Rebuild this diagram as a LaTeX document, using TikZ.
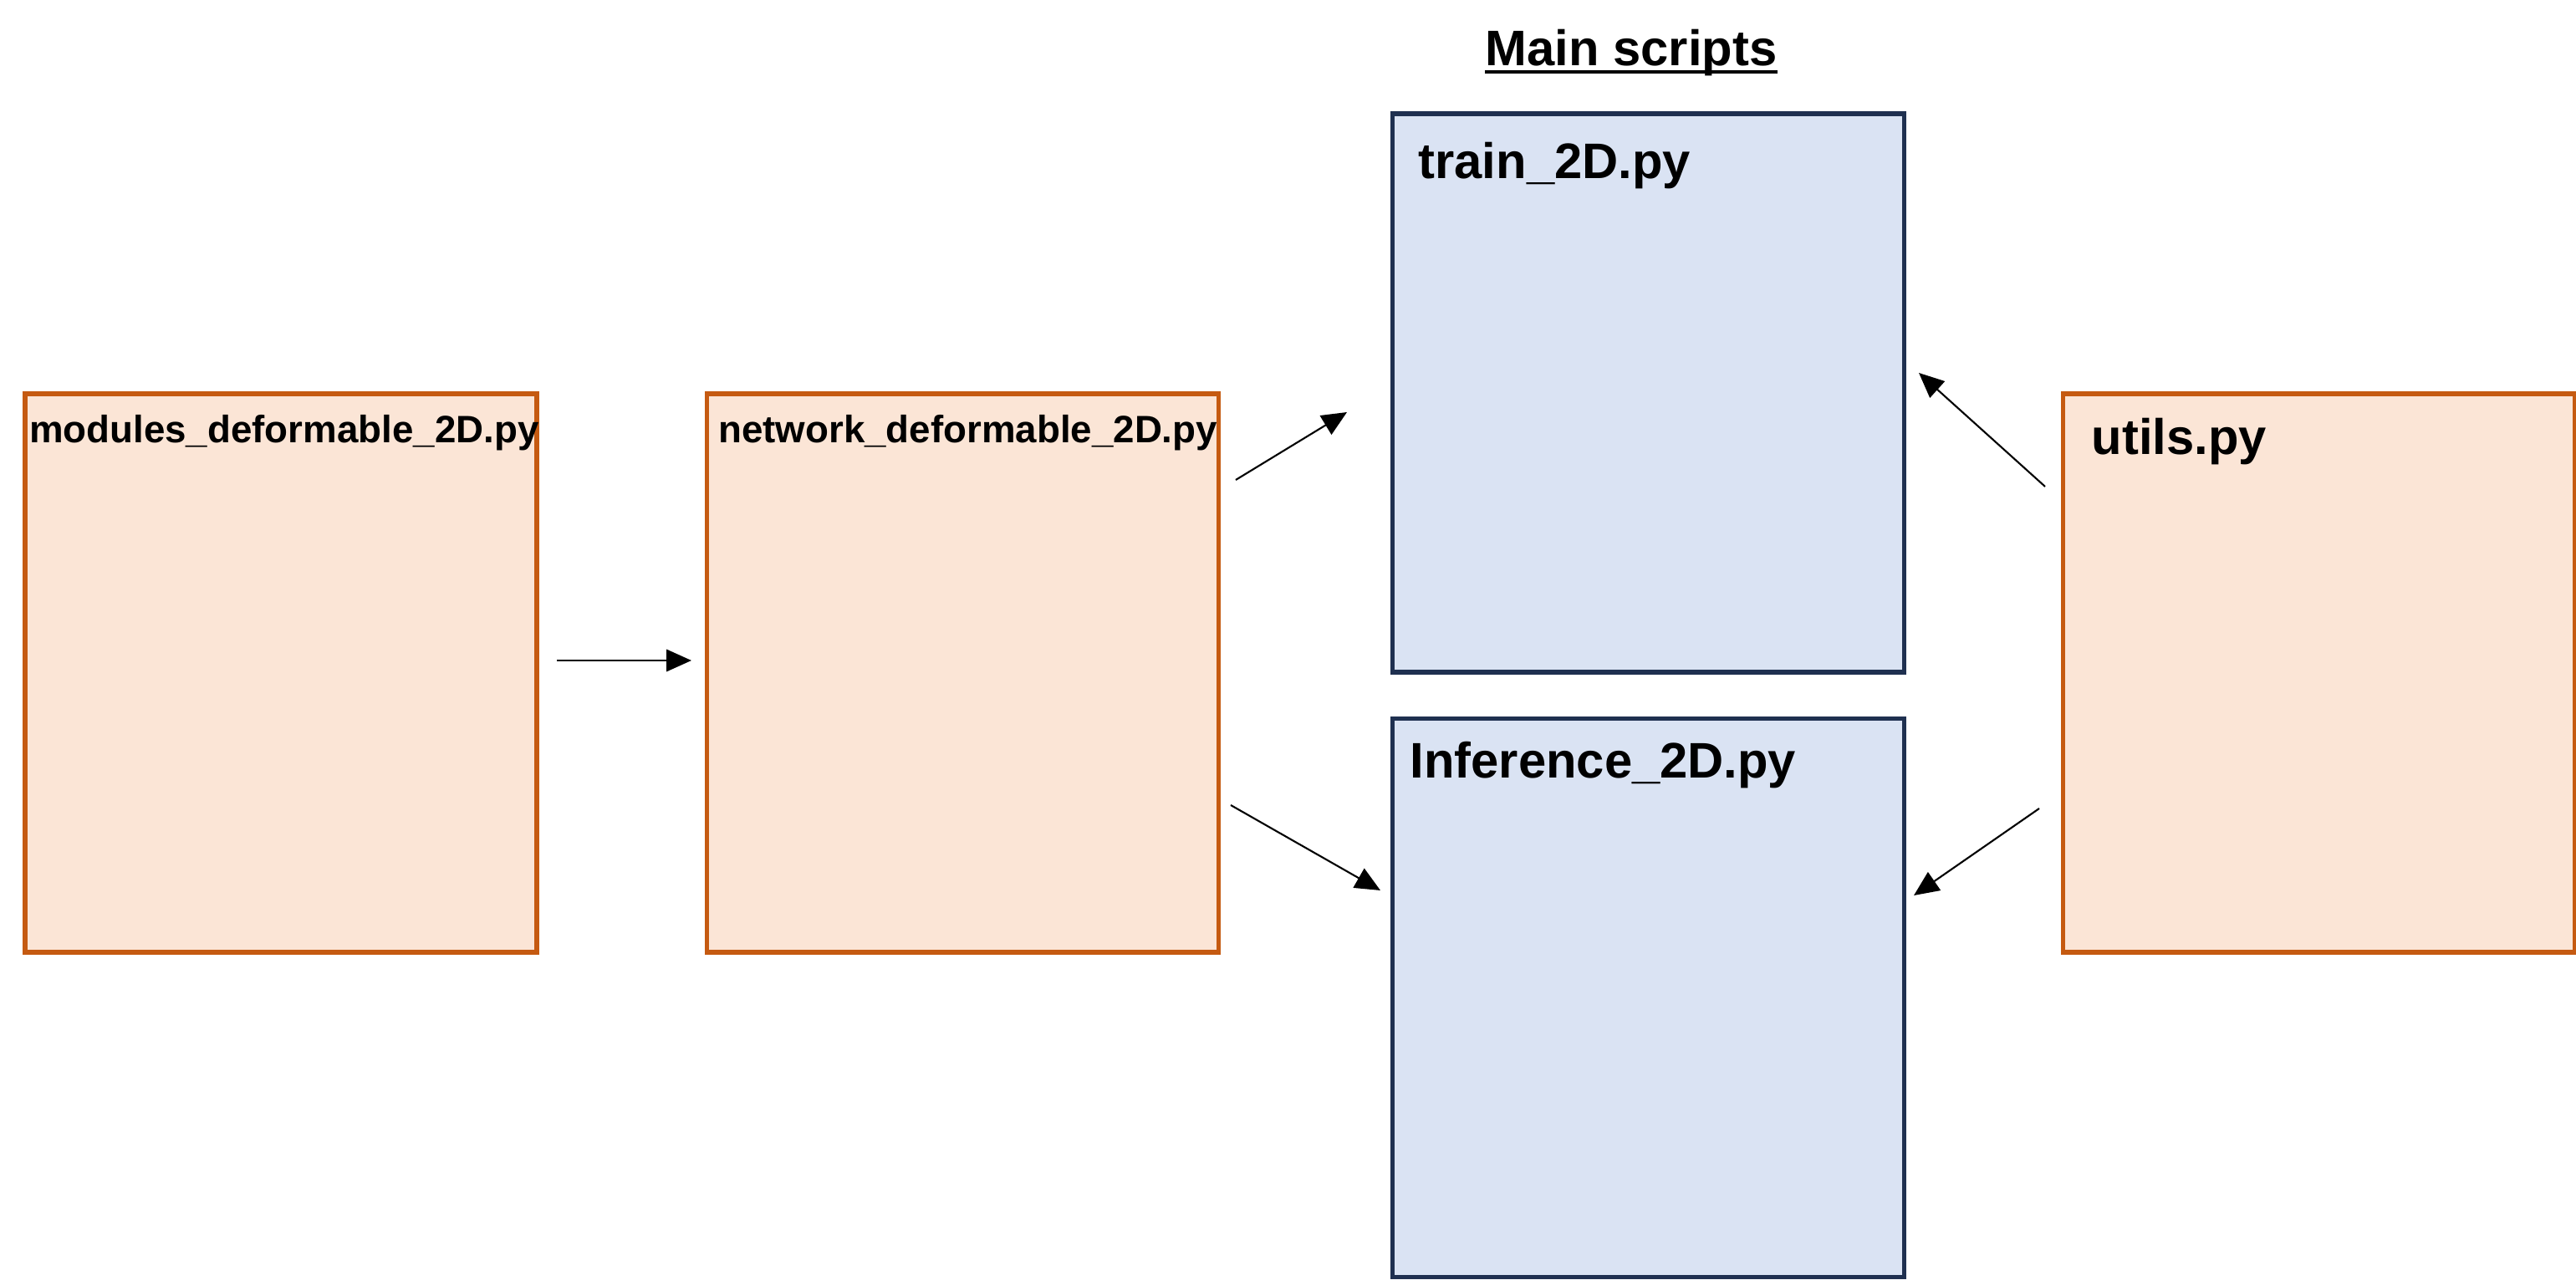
\documentclass[tikz,border=0pt]{standalone}
\usepackage{fontspec}
\setmainfont{Liberation Sans}
\usetikzlibrary{arrows.meta,positioning}
\definecolor{helperline}{HTML}{C55A11}
\definecolor{helperfill}{HTML}{FBE5D6}
\definecolor{scriptline}{HTML}{1F3050}
\definecolor{scriptfill}{HTML}{DAE3F3}

\begin{document}
\begin{tikzpicture}[>={Triangle[length=8.5pt,width=7.5pt]}]
  \tikzstyle{file}=[draw,line width=1.5pt,minimum width=6.12cm,minimum height=6.68cm,inner sep=0pt]
  \tikzstyle{helper}=[file,draw=helperline,fill=helperfill]
  \tikzstyle{script}=[file,draw=scriptline,fill=scriptfill]
  \tikzstyle{small}=[anchor=base west,inner sep=0pt,font=\bfseries\fontsize{13}{16}\selectfont]
  \tikzstyle{big}=[anchor=base west,inner sep=0pt,font=\bfseries\fontsize{17}{20}\selectfont]
  \tikzstyle{link}=[->,line width=0.6pt]
  \useasboundingbox (0,0) rectangle (30.81,-15.31);
  \node[helper] (mods) at (3.36,-8.05) {};
  \node[helper,right=1.98cm of mods] (net) {};
  \node[script] (train) at (19.715,-4.70) {};
  \node[script,below=0.5cm of train] (infer) {};
  \node[helper] (utils) at (27.735,-8.05) {};
  \node[small] at ([shift={(0.07,-0.61)}]mods.north west) {modules\_deformable\_2D.py};
  \node[small] at ([shift={(0.16,-0.61)}]net.north west) {network\_deformable\_2D.py};
  \node[big] at ([shift={(0.33,-0.80)}]train.north west) {train\_2D.py};
  \node[big] at ([shift={(0.23,-0.74)}]infer.north west) {Inference\_2D.py};
  \node[big] at ([shift={(0.36,-0.75)}]utils.north west) {utils.py};
  \node[big,anchor=base] (title) at (19.51,-0.79) {Main scripts};
  \draw[line width=1.4pt] ([yshift=-0.07cm]title.base west) -- ([yshift=-0.07cm]title.base east);
  \coordinate (a1) at (6.66,-7.90);
  \coordinate (b1) at (8.27,-7.90);
  \coordinate (a2) at (14.78,-5.74);
  \coordinate (b2) at (16.11,-4.93);
  \coordinate (a3) at (14.72,-9.63);
  \coordinate (b3) at (16.51,-10.65);
  \coordinate (a4) at (24.46,-5.82);
  \coordinate (b4) at (22.95,-4.46);
  \coordinate (a5) at (24.39,-9.67);
  \coordinate (b5) at (22.89,-10.71);
  \draw[link] (a1) -- (b1);
  \draw[link] (a2) -- (b2);
  \draw[link] (a3) -- (b3);
  \draw[link] (a4) -- (b4);
  \draw[link] (a5) -- (b5);
\end{tikzpicture}
\end{document}
